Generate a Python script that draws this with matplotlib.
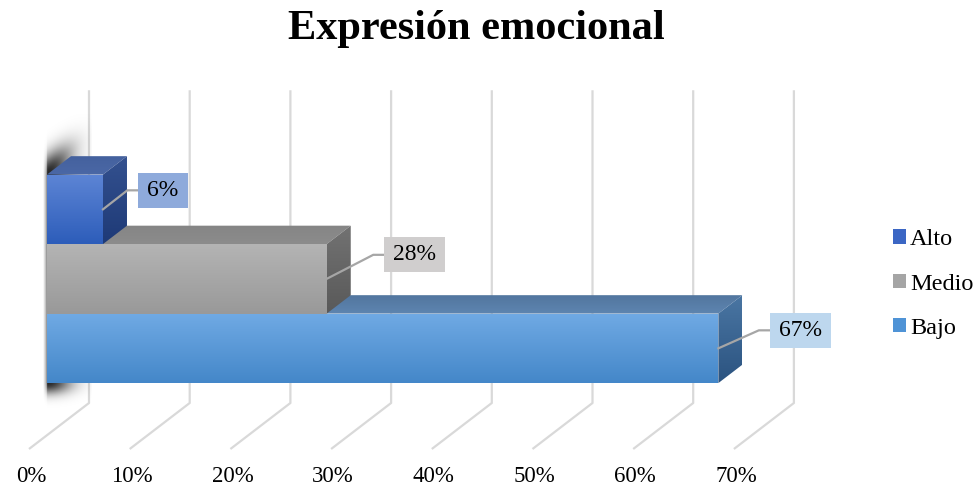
import numpy as np
import matplotlib
matplotlib.use("Agg")
import matplotlib.pyplot as plt
from matplotlib.patches import Polygon, Patch, Rectangle
from matplotlib.colors import to_rgb

# ---------------- data ----------------
title = "Expresión emocional"
series = ["Bajo", "Medio", "Alto"]            # drawn bottom -> top
values = [66.67, 27.78, 5.56]                 # percent
value_labels = ["67%", "28%", "6%"]
ticks = [0, 10, 20, 30, 40, 50, 60, 70]
tick_labels = ["0%", "10%", "20%", "30%", "40%", "50%", "60%", "70%"]
legend_order = ["Alto", "Medio", "Bajo"]

# ---------------- styles ----------------
face_colors = {
    "Bajo":  dict(front=("#70aae4", "#4487c9"), top=("#52769f", "#5e85b0"), side=("#4a76a3", "#2b5380"), legend="#4f93d6", label_bg="#bdd7ee"),
    "Medio": dict(front=("#b4b4b4", "#999999"), top=("#858585", "#8c8c8c"), side=("#727272", "#595959"), legend="#a5a5a5", label_bg="#d0cece"),
    "Alto":  dict(front=("#5d85d5", "#2d5dba"), top=("#44619e", "#4b68a6"), side=("#34518f", "#1e3a77"), legend="#3b66c4", label_bg="#8eaadb"),
}
label_offsets_px = {"Alto": (60, -19), "Medio": (88, -24), "Bajo": (82, -18)}

plt.rcParams['font.family'] = ['Liberation Serif', 'DejaVu Serif']

W, H = 977, 488
fig = plt.figure(figsize=(W / 100, H / 100), dpi=100)
ax = fig.add_axes([0, 0, 1, 1])
ax.axis('off')

# projection constants (layout)
PX_X = 10.07          # px per percent
PX_Y = 69.5           # px per category unit
ORIGIN = (29.0, 449.0)
DX, DY = 60.0 / PX_X, 46.0 / PX_Y
N_UNITS = len(values) + 1.5
GAP = 0.75
D0, D1 = 0.3, 0.7


def P(v, c, d):
    return (v + d * DX, c + d * DY)


def to_px(pt):
    return (ORIGIN[0] + pt[0] * PX_X, ORIGIN[1] - pt[1] * PX_Y)


def from_px(x, y):
    return ((x - ORIGIN[0]) / PX_X, (ORIGIN[1] - y) / PX_Y)


def grad_poly(verts, c_top, c_bot, z):
    poly = Polygon(verts, closed=True, facecolor='none', edgecolor='none', zorder=z)
    ax.add_patch(poly)
    xs = [p[0] for p in verts]
    ys = [p[1] for p in verts]
    n = 96
    t = np.linspace(0, 1, n)[:, None]
    a, b = np.array(to_rgb(c_top)), np.array(to_rgb(c_bot))
    img = (a * (1 - t) + b * t)[:, None, :]
    im = ax.imshow(img, extent=(min(xs), max(xs), min(ys), max(ys)), origin='upper',
                   aspect='auto', zorder=z, interpolation='bilinear')
    im.set_clip_path(poly)


# gridlines (back wall + floor)
for v in ticks:
    p_front = P(v, 0, 0)
    p_back = P(v, 0, 1)
    p_top = P(v, N_UNITS, 1)
    ax.plot([p_front[0], p_back[0], p_top[0]], [p_front[1], p_back[1], p_top[1]],
            color="#d9d9d9", lw=1.6, zorder=1, solid_capstyle='butt')

# soft shadow along the left of the bar stack
c_lo = GAP
c_hi = GAP + len(values)
x_left_px, y_bot_px = to_px(P(0, c_lo, D0))
_, y_top_px = to_px(P(0, c_hi, D0))
xb_px, yb_px = to_px(P(0, c_hi, D1))
slope = (yb_px - y_top_px) / (xb_px - x_left_px)
sx0, sx1 = x_left_px - 5, x_left_px + 45
sy0, sy1 = y_top_px - 60, y_bot_px + 30
gx = np.linspace(sx0, sx1, 150)
gy = np.linspace(sy0, sy1, 450)
GX, GY = np.meshgrid(gx, gy)
hor = np.where(GX < x_left_px, np.clip((GX - (x_left_px - 4)) / 4, 0, 1) * 0.4,
               0.85 * np.exp(-((GX - x_left_px) / 24.0) ** 2))
edge = y_top_px + (GX - x_left_px) * slope
ver = np.ones_like(GY)
ver = np.where(GY < edge, np.exp(-((edge - GY) / 19.0) ** 2), ver)
ver = np.where(GY > y_bot_px, np.exp(-((GY - y_bot_px) / 11.0) ** 2), ver)
alpha = np.clip(hor * ver, 0, 1)
rgba = np.zeros(GX.shape + (4,))
rgba[..., 3] = alpha
ex0 = from_px(sx0, sy1)
ex1 = from_px(sx1, sy0)
ax.imshow(rgba, extent=(ex0[0], ex1[0], ex0[1], ex1[1]), origin='upper', aspect='auto',
          zorder=2, interpolation='bilinear')

# bars
renderer = fig.canvas.get_renderer()
for i, (name, v, lab) in enumerate(zip(series, values, value_labels)):
    c0, c1 = GAP + i, GAP + i + 1
    st = face_colors[name]
    front = [P(0, c0, D0), P(v, c0, D0), P(v, c1, D0), P(0, c1, D0)]
    top = [P(0, c1, D0), P(v, c1, D0), P(v, c1, D1), P(0, c1, D1)]
    side = [P(v, c0, D0), P(v, c0, D1), P(v, c1, D1), P(v, c1, D0)]
    z = 3 + i * 2
    grad_poly(top, *st["top"], z)
    grad_poly(side, *st["side"], z)
    grad_poly(front, *st["front"], z + 0.5)

    # data label with leader line
    anchor = P(v, c0 + 0.5, D0)
    ax_px, ay_px = to_px(anchor)
    offx, offy = label_offsets_px[name]
    cx_px, cy_px = ax_px + offx, ay_px + offy
    tx, ty = from_px(cx_px, cy_px)
    t = ax.text(tx, ty, lab, ha='center', va='center', fontsize=17, color='black', zorder=21)
    bb = t.get_window_extent(renderer=renderer)
    half_w = bb.width / 2 + 9
    half_h = 17.5
    r0 = from_px(cx_px - half_w, cy_px + half_h)
    r1 = from_px(cx_px + half_w, cy_px - half_h)
    ax.add_patch(Rectangle(r0, r1[0] - r0[0], r1[1] - r0[1], facecolor=st["label_bg"],
                           edgecolor='none', zorder=20))
    elbow = from_px(cx_px - half_w - 11, cy_px)
    boxl = from_px(cx_px - half_w, cy_px)
    ax.plot([anchor[0], elbow[0], boxl[0]], [anchor[1], elbow[1], boxl[1]],
            color="#a6a6a6", lw=1.6, zorder=19)

# tick labels at front edge of floor
for v, tl in zip(ticks, tick_labels):
    fx, fy = to_px(P(v, 0, 0))
    lx, ly = from_px(fx + 2, fy + 27)
    ax.text(lx, ly, tl, ha='center', va='center', fontsize=16.5, color='black')

ax.set_xlim(-ORIGIN[0] / PX_X, (W - ORIGIN[0]) / PX_X)
ax.set_ylim(-(H - ORIGIN[1]) / PX_Y, ORIGIN[1] / PX_Y)

# title
fig.text(476.5 / W, 1 - 29 / H, title, ha='center', va='center', fontsize=30.5,
         fontweight='bold', color='black')

# legend
handles = [Patch(facecolor=face_colors[n]["legend"], edgecolor='none') for n in legend_order]
fig.legend(handles, legend_order, loc='center left', bbox_to_anchor=(893 / W, 1 - 284 / H),
           frameon=False, fontsize=17.5, handlelength=0.55, handleheight=0.55,
           handletextpad=0.15, labelspacing=0.95, borderpad=0, borderaxespad=0)

fig.savefig("out.png", dpi=100)
